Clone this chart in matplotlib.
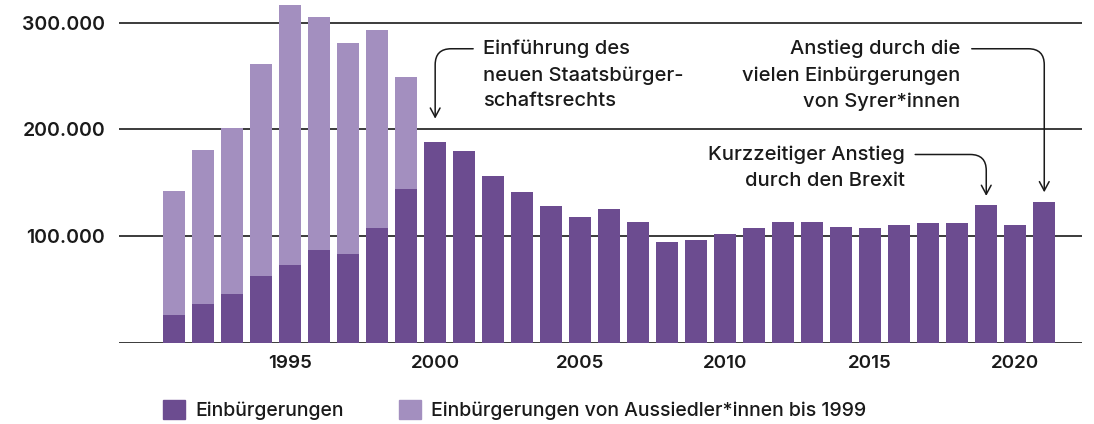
import matplotlib
matplotlib.use("Agg")
import matplotlib.pyplot as plt
from matplotlib.patches import Patch

# Data (in thousands)
years = list(range(1991, 2022))
einbuergerungen = [25.8, 36.1, 45.4, 62.1, 72.4, 87.3, 83.6, 107.8, 144.1,
                   188.0, 179.5, 156.2, 141.3, 128.3, 118.0, 125.5, 113.4,
                   94.8, 96.6, 102.2, 107.8, 113.4, 113.4, 108.7, 107.8,
                   110.6, 112.5, 112.5, 129.2, 110.6, 132.0]
aussiedler_years = list(range(1991, 2000))
aussiedler = [116.5, 144.4, 155.6, 199.4, 244.1, 218.0, 197.5, 185.4, 105.3]

y_ticks = [100, 200, 300]
y_labels = ["100.000", "200.000", "300.000"]
x_ticks = [1995, 2000, 2005, 2010, 2015, 2020]

dark = "#6c4c90"
light = "#a38fbf"
ink = "#1a1a1a"

plt.rcParams["font.family"] = ["Inter", "DejaVu Sans"]

fig = plt.figure(figsize=(10.94, 4.24), dpi=100)
ax = fig.add_axes([0.1088, 0.1917, 0.989 - 0.1088, 0.997 - 0.1917])

# Gridlines behind bars
for y in [0] + y_ticks:
    ax.axhline(y, color=ink, lw=1.2, zorder=0)

ax.bar(years, einbuergerungen, width=0.76, color=dark, zorder=2)
ax.bar(aussiedler_years, aussiedler, width=0.76, bottom=einbuergerungen[:len(aussiedler_years)],
       color=light, zorder=2)

ax.set_xlim(1989.1, 2022.3)
ax.set_ylim(0, 320)
for s in ax.spines.values():
    s.set_visible(False)
ax.set_yticks(y_ticks, y_labels)
ax.set_xticks(x_ticks, [str(x) for x in x_ticks])
ax.tick_params(length=0)
ax.tick_params(axis="y", pad=10, labelsize=14, labelcolor=ink)
ax.tick_params(axis="x", pad=9, labelsize=13.5, labelcolor=ink)
for lbl in ax.get_xticklabels() + ax.get_yticklabels():
    lbl.set_fontweight("semibold")

txt_kw = dict(fontsize=14.5, color=ink, fontweight="medium", linespacing=1.55)
arrow_kw = dict(arrowstyle="->,head_length=0.65,head_width=0.35", color=ink, lw=1.1,
                shrinkA=0, shrinkB=0)

# Annotation: new citizenship law
ax.text(2001.66, 284, "Einführung des\nneuen Staatsbürger-\nschaftsrechts",
        ha="left", va="top", **txt_kw)
ax.annotate("", xy=(2000, 210), xytext=(2001.31, 275.5),
            arrowprops=dict(connectionstyle="angle,angleA=180,angleB=90,rad=16", **arrow_kw))

# Annotation: Syrians
ax.text(2018.1, 284, "Anstieg durch die\nvielen Einbürgerungen\nvon Syrer*innen",
        ha="right", va="top", **txt_kw)
ax.annotate("", xy=(2021, 141), xytext=(2018.5, 275.5),
            arrowprops=dict(connectionstyle="angle,angleA=0,angleB=90,rad=16", **arrow_kw))

# Annotation: Brexit
ax.text(2016.2, 184.5, "Kurzzeitiger Anstieg\ndurch den Brexit",
        ha="right", va="top", **txt_kw)
ax.annotate("", xy=(2019, 137.6), xytext=(2016.55, 176.4),
            arrowprops=dict(connectionstyle="angle,angleA=0,angleB=90,rad=16", **arrow_kw))

handles = [Patch(color=dark, label="Einbürgerungen"),
           Patch(color=light, label="Einbürgerungen von Aussiedler*innen bis 1999")]
leg = fig.legend(handles=handles, loc="center left", bbox_to_anchor=(0.149, 0.033),
                 ncol=2, frameon=False, fontsize=14, handlelength=1.15, handleheight=1.15,
                 handletextpad=0.5, columnspacing=2.85, borderaxespad=0, borderpad=0)
for t in leg.get_texts():
    t.set_fontweight("medium")
    t.set_color(ink)

fig.savefig("out.png", dpi=100)
